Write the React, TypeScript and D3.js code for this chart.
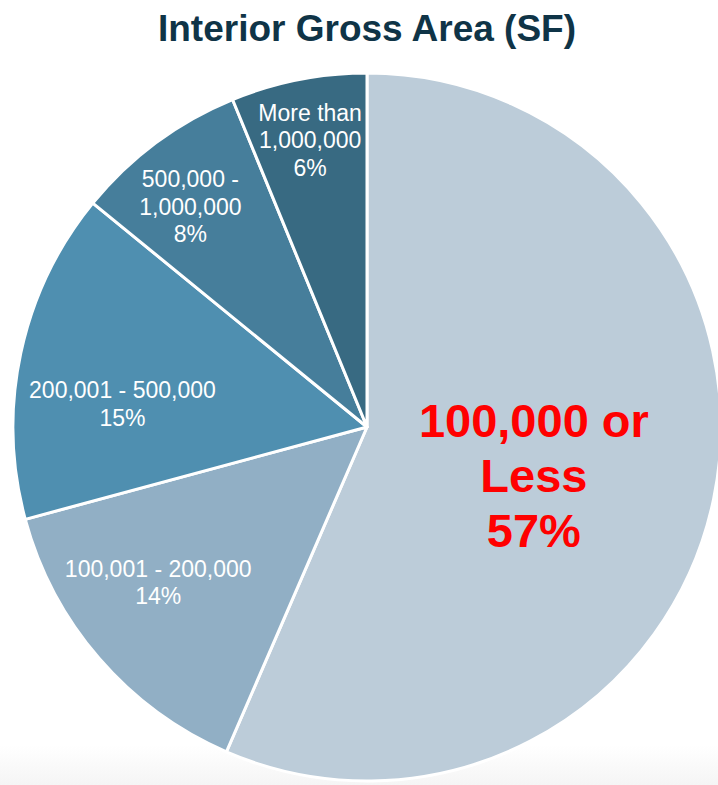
import React from "react";
import * as d3 from "d3";

const categories = [
  "100,000 or Less",
  "100,001 - 200,000",
  "200,001 - 500,000",
  "500,000 - 1,000,000",
  "More than 1,000,000",
];
const values = [56.5, 14.3, 15.1, 7.9, 6.2];
const percentLabels = ["57%", "14%", "15%", "8%", "6%"];
const labelLines = [
  ["100,000 or", "Less"],
  ["100,001 - 200,000"],
  ["200,001 - 500,000"],
  ["500,000 -", "1,000,000"],
  ["More than", "1,000,000"],
];
const colors = ["#BCCCD9", "#91AFC5", "#4F8FB0", "#467E9B", "#386A82"];

const W = 718;
const H = 785;
const CX = 367;
const CY = 427;
const R = 354;

// label layout: radius factor and fine offsets
const labelRadius = [0.49, 0.735, 0.695, 0.8, 0.83];
const labelShift: [number, number][] = [
  [-3, 13],
  [-12, -15],
  [-4, 28],
  [-8, 7],
  [0, 1],
];

export default function App() {
  const pie = d3
    .pie<number>()
    .sort(null)
    .value((d) => d)
    .startAngle(0)
    .endAngle(2 * Math.PI);
  const arcs = pie(values);
  const arcGen = d3.arc<d3.PieArcDatum<number>>().innerRadius(0).outerRadius(R);

  return (
    <svg
      width={W}
      height={H}
      style={{ position: "absolute", left: 0, top: 0, fontFamily: "'Liberation Sans', Arial, sans-serif" }}
    >
      <defs>
        <linearGradient id="bgFade" x1="0" y1="0" x2="0" y2="1">
          <stop offset="0" stopColor="#ffffff" />
          <stop offset="1" stopColor="#f5f5f5" />
        </linearGradient>
      </defs>
      <rect x={0} y={0} width={W} height={H} fill="#ffffff" />
      <rect x={0} y={745} width={W} height={40} fill="url(#bgFade)" />
      <text
        x={367}
        y={41}
        textAnchor="middle"
        fontSize={37}
        fontWeight="bold"
        fill="#0F3447"
      >
        Interior Gross Area (SF)
      </text>
      <g transform={`translate(${CX},${CY})`}>
        {arcs.map((a, i) => (
          <path
            key={categories[i]}
            d={arcGen(a) || ""}
            fill={colors[i]}
            stroke="#ffffff"
            strokeWidth={3}
            strokeLinejoin="round"
          />
        ))}
        {arcs.map((a, i) => {
          const mid = (a.startAngle + a.endAngle) / 2;
          const r = R * labelRadius[i];
          const x = r * Math.sin(mid) + labelShift[i][0];
          const y = -r * Math.cos(mid) + labelShift[i][1];
          const lines = [...labelLines[i], percentLabels[i]];
          const big = i === 0;
          const lh = big ? 55 : 27.5;
          const cap = big ? 34 : 16.5;
          const first = y - ((lines.length - 1) * lh) / 2 + cap / 2;
          return (
            <text
              key={"l" + i}
              textAnchor="middle"
              fontSize={big ? 47 : 23}
              fontWeight={big ? "bold" : "normal"}
              fill={big ? "#FF0000" : "#FFFFFF"}
            >
              {lines.map((ln, j) => (
                <tspan key={j} x={x} y={first + j * lh}>
                  {ln}
                </tspan>
              ))}
            </text>
          );
        })}
      </g>
    </svg>
  );
}
